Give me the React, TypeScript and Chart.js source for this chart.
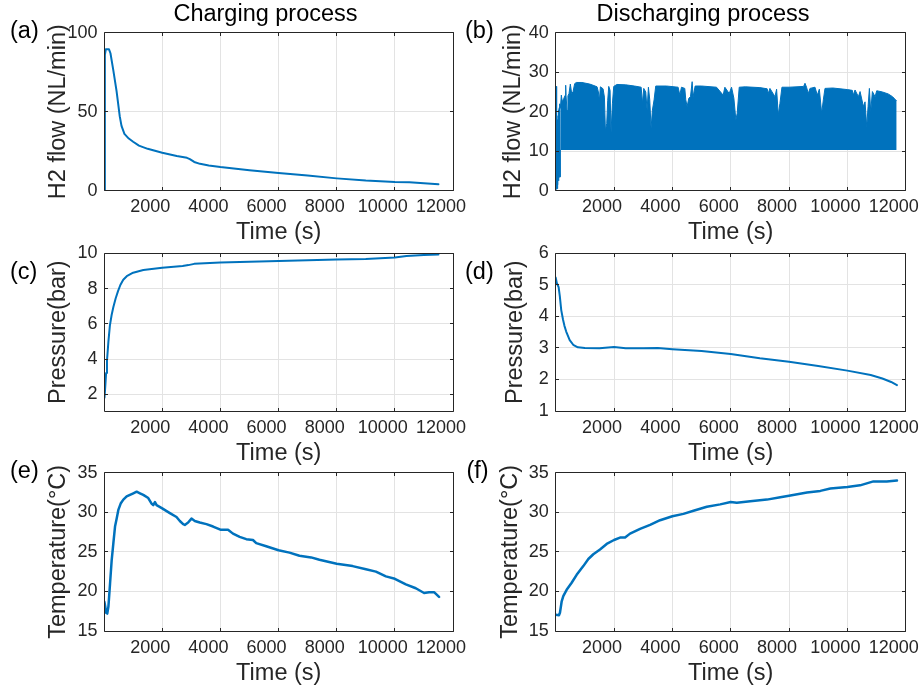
import React, { useEffect, useRef } from "react";
import { Chart, registerables } from "chart.js";

Chart.register(...registerables);

const FONT = '"Liberation Sans", Arial, Helvetica, sans-serif';
const LINE_BLUE = "#0072BD";
const GRID = "#e3e3e3";
const AXIS = "#262626";

// ---------- tick labels ----------
const timeTicks = [2000, 4000, 6000, 8000, 10000, 12000];
const flowChargeTicks = [0, 50, 100];
const flowDischargeTicks = [0, 10, 20, 30, 40];
const pressureChargeTicks = [2, 4, 6, 8, 10];
const pressureDischargeTicks = [1, 2, 3, 4, 5, 6];
const temperatureTicks = [15, 20, 25, 30, 35];

// ---------- (a) H2 flow, charging ----------
const aTime = [20, 28, 60, 170, 220, 320, 430, 540, 600, 700, 850, 1000, 1200, 1500, 2000, 2500, 2850, 2950, 3100, 3300, 3600, 4000, 5000, 6000, 7000, 8000, 9000, 10000, 10500, 11000, 11500];
const aFlow = [0, 86, 89.5, 89.5, 87, 76, 63, 47, 41, 36, 33, 31, 28.5, 26.5, 24, 22, 20.8, 20, 18.2, 17, 16, 15, 13, 11.2, 9.6, 7.8, 6.4, 5.5, 5.3, 4.7, 4.1];

// ---------- (b) H2 flow, discharging ----------
const bEarlyTime = [0, 4, 8, 14, 20, 28, 36, 44, 52, 62, 72, 82, 92, 102, 112, 122, 132, 142, 152, 159];
const bEarlyFlow = [0, 26.4, 0.3, 26.4, 0.5, 26.4, 0.5, 17, 0.5, 18, 1.5, 19, 2.5, 20.5, 3.3, 21, 3.4, 22, 3.5, 10.3];
const bFlowFloor = 10.3;
const bTime = [159, 193, 227, 273, 330, 342, 355, 388, 420, 456, 502, 548, 593, 650, 708, 900, 1166, 1281, 1418, 1463, 1498, 1532, 1624, 1670, 1704, 1750, 1784, 1818, 1864, 1898, 1944, 1990, 2100, 2400, 2700, 2930, 2973, 3019, 3087, 3133, 3179, 3225, 3270, 3316, 3373, 3430, 3797, 4197, 4255, 4312, 4426, 4460, 4506, 4563, 4621, 4678, 4712, 4781, 5000, 5514, 5742, 5800, 5949, 6029, 6109, 6177, 6223, 6292, 6500, 7000, 7250, 7288, 7345, 7517, 7574, 7631, 7688, 7757, 8000, 8500, 8547, 8600, 8661, 8718, 8890, 8970, 9039, 9119, 9176, 9233, 9500, 10000, 10170, 10206, 10263, 10378, 10435, 10550, 10606, 10664, 10710, 10755, 10801, 10858, 10950, 11007, 11200, 11400, 11550, 11690];
const bFlowUpper = [20.8, 24.2, 22.5, 23.3, 24.2, 26.7, 24, 20.3, 24, 24.6, 27, 24.6, 25, 27.1, 27.4, 27.4, 27.0, 26.7, 26.3, 25.0, 22.9, 26.3, 25.8, 23.7, 15.3, 17, 22.9, 26.4, 25.4, 14.8, 22, 26.4, 26.9, 26.8, 26.5, 26.2, 22.1, 25.9, 25, 20.4, 26.2, 23, 15.8, 20.4, 23, 26.5, 26.5, 26.2, 24.2, 26.2, 25.9, 23, 21.3, 23.4, 23.8, 27.6, 23.8, 26.5, 26.5, 26.2, 24.2, 26.2, 24.6, 26.2, 23.4, 17.9, 19.6, 26.2, 26.3, 26.1, 25.8, 24.6, 25.9, 23.8, 25.7, 19.2, 22.1, 26.2, 26.2, 26.4, 27.2, 26.2, 24.6, 25.9, 26.2, 24.2, 25.7, 19.6, 23, 25.9, 26.0, 25.6, 25.4, 24.2, 25.5, 23.8, 25.1, 21.3, 22.5, 16.2, 21.3, 25.9, 20, 25.1, 23.8, 25.3, 25.0, 24.5, 23.8, 22.7];

// ---------- (c) pressure, charging ----------
const cTime = [15, 40, 70, 100, 150, 200, 260, 320, 400, 480, 560, 660, 780, 1000, 1350, 2000, 2700, 2900, 3100, 4000, 6000, 8000, 9000, 10000, 10400, 11000, 11500];
const cPressure = [1.8, 2.4, 3.2, 3.9, 5.0, 5.9, 6.5, 6.95, 7.45, 7.85, 8.2, 8.5, 8.7, 8.9, 9.05, 9.18, 9.28, 9.33, 9.4, 9.48, 9.57, 9.65, 9.68, 9.76, 9.85, 9.9, 9.93];

// ---------- (d) pressure, discharging ----------
const dTime = [0, 40, 100, 140, 190, 250, 300, 360, 480, 600, 760, 1000, 1500, 2000, 2400, 3000, 3500, 4000, 5000, 6000, 7000, 8000, 9000, 10000, 10800, 11200, 11500, 11700];
const dPressure = [5.23, 5.05, 4.93, 4.65, 4.2, 3.9, 3.7, 3.52, 3.25, 3.1, 3.02, 3.0, 2.99, 3.03, 2.99, 2.99, 3.0, 2.96, 2.9, 2.81, 2.67, 2.56, 2.43, 2.28, 2.14, 2.03, 1.92, 1.82];

// ---------- (e) temperature, charging ----------
const eTime = [10, 40, 70, 110, 150, 206, 263, 320, 377, 434, 491, 571, 663, 777, 891, 1006, 1120, 1234, 1349, 1520, 1634, 1691, 1750, 1806, 2000, 2263, 2491, 2606, 2720, 2777, 2891, 3006, 3120, 3292, 3520, 3749, 4000, 4263, 4434, 4663, 4891, 5120, 5234, 5577, 6000, 6377, 6720, 7120, 7406, 8000, 8549, 9006, 9349, 9692, 10000, 10378, 10720, 11006, 11177, 11349, 11520];
const eTemperature = [18.7, 18.1, 17.3, 17.2, 18.1, 21, 24, 26.1, 28.2, 29.2, 30.3, 31.1, 31.6, 32, 32.2, 32.4, 32.6, 32.4, 32.2, 31.8, 31.1, 30.9, 31.3, 30.9, 30.5, 29.9, 29.4, 28.9, 28.5, 28.4, 28.7, 29.2, 28.9, 28.7, 28.5, 28.2, 27.8, 27.8, 27.3, 26.9, 26.6, 26.5, 26.1, 25.7, 25.2, 24.9, 24.5, 24.3, 24, 23.5, 23.2, 22.8, 22.5, 21.9, 21.6, 20.9, 20.4, 19.8, 19.9, 19.9, 19.3];

// ---------- (f) temperature, discharging ----------
const fTime = [0, 112, 146, 203, 260, 375, 547, 718, 947, 1119, 1290, 1519, 1748, 2000, 2206, 2378, 2549, 2893, 3236, 3579, 4000, 4380, 4724, 5182, 5640, 6000, 6210, 6670, 7240, 7700, 8000, 8615, 9073, 9416, 10000, 10435, 10893, 11350, 11700];
const fTemperature = [17.05, 17.0, 17.3, 18.7, 19.4, 20.2, 21.1, 22.1, 23.2, 24.1, 24.7, 25.3, 26.0, 26.5, 26.8, 26.8, 27.3, 27.9, 28.4, 29.0, 29.5, 29.8, 30.2, 30.7, 31.0, 31.3, 31.2, 31.4, 31.6, 31.9, 32.1, 32.5, 32.7, 33.0, 33.2, 33.4, 33.9, 33.9, 34.0];

const pts = (xs: number[], ys: number[]) => xs.map((x, i) => ({ x, y: ys[i] }));

const lineDs = (xs: number[], ys: number[], width = 2) => ({
  data: pts(xs, ys),
  borderColor: LINE_BLUE,
  borderWidth: width,
  pointRadius: 0,
  fill: false,
  tension: 0,
  borderJoinStyle: "round",
  borderCapStyle: "round",
});

const framePlugin = {
  id: "matlabFrame",
  afterDatasetsDraw(chart: any) {
    const { ctx, chartArea, scales } = chart;
    const { left, top, right, bottom } = chartArea;
    const L = Math.floor(left) + 0.5;
    const R = Math.floor(right) + 0.5;
    const T = Math.floor(top) + 0.5;
    const B = Math.floor(bottom) + 0.5;
    ctx.save();
    ctx.strokeStyle = AXIS;
    ctx.lineWidth = 1;
    ctx.beginPath();
    ctx.rect(L, T, R - L, B - T);
    const len = 3.5;
    scales.x.ticks.forEach((t: any) => {
      const px = Math.floor(scales.x.getPixelForValue(t.value)) + 0.5;
      ctx.moveTo(px, B);
      ctx.lineTo(px, B - len);
      ctx.moveTo(px, T);
      ctx.lineTo(px, T + len);
    });
    scales.y.ticks.forEach((t: any) => {
      const py = Math.floor(scales.y.getPixelForValue(t.value)) + 0.5;
      ctx.moveTo(L, py);
      ctx.lineTo(L + len, py);
      ctx.moveTo(R, py);
      ctx.lineTo(R - len, py);
    });
    ctx.stroke();
    ctx.restore();
  },
};

type PanelSpec = {
  left: number;
  top: number;
  width: number;
  height: number;
  plotLeft: number;
  plotRight: number;
  plotTop: number;
  plotBottom: number;
  xMin: number;
  yMin: number;
  yMax: number;
  yTicks: number[];
  yTitle: string;
  yTitleCenter: number;
  xTitleCenter: number;
  datasets: any[];
};

const TITLE_SIZE = 23.5;
const TICK_SIZE = 18;

function buildConfig(s: PanelSpec): any {
  const half = (TITLE_SIZE * 1.2) / 2;
  return {
    type: "line",
    data: { datasets: s.datasets },
    options: {
      animation: false,
      responsive: false,
      events: [],
      layout: { padding: { left: 0, top: s.plotTop, right: s.width - s.plotRight, bottom: 0 } },
      plugins: { legend: { display: false }, tooltip: { enabled: false }, title: { display: false } },
      scales: {
        x: {
          type: "linear",
          min: s.xMin,
          max: 12000,
          afterBuildTicks: (sc: any) => {
            sc.ticks = timeTicks.map((v) => ({ value: v }));
          },
          afterFit: (sc: any) => {
            sc.height = s.height - s.plotBottom;
            sc.paddingLeft = 0;
            sc.paddingRight = 0;
          },
          grid: { color: GRID, lineWidth: 1, drawTicks: false },
          border: { display: false },
          ticks: {
            padding: 6,
            labelOffset: -12,
            autoSkip: false,
            maxRotation: 0,
            minRotation: 0,
            color: AXIS,
            font: { family: FONT, size: TICK_SIZE },
            callback: (v: any) => String(v),
          },
          title: {
            display: true,
            text: "Time (s)",
            color: AXIS,
            font: { family: FONT, size: TITLE_SIZE },
            padding: { top: 0, bottom: s.height - s.xTitleCenter - half },
          },
        },
        y: {
          type: "linear",
          min: s.yMin,
          max: s.yMax,
          afterBuildTicks: (sc: any) => {
            sc.ticks = s.yTicks.map((v) => ({ value: v }));
          },
          afterFit: (sc: any) => {
            sc.width = s.plotLeft;
            sc.paddingTop = 0;
            sc.paddingBottom = 0;
          },
          grid: { color: GRID, lineWidth: 1, drawTicks: false },
          border: { display: false },
          ticks: {
            padding: 7,
            autoSkip: false,
            color: AXIS,
            font: { family: FONT, size: TICK_SIZE },
            callback: (v: any) => String(v),
          },
          title: {
            display: true,
            text: s.yTitle,
            color: AXIS,
            font: { family: FONT, size: TITLE_SIZE },
            padding: { top: s.yTitleCenter - half, bottom: 0 },
          },
        },
      },
    },
    plugins: [framePlugin],
  };
}

function Panel({ spec }: { spec: PanelSpec }) {
  const ref = useRef<HTMLCanvasElement | null>(null);
  useEffect(() => {
    const chart = new Chart(ref.current as HTMLCanvasElement, buildConfig(spec));
    return () => chart.destroy();
  }, []);
  return (
    <canvas
      ref={ref}
      width={spec.width}
      height={spec.height}
      style={{ position: "absolute", left: spec.left, top: spec.top, width: spec.width, height: spec.height }}
    />
  );
}

// column / row geometry (page pixels)
const COL_L = { left: 0, width: 475, plotLeft: 104.5, plotRight: 453, xMin: 15 };
const COL_R = { left: 460, width: 462, plotLeft: 95.7, plotRight: 445.7, xMin: 0 };
const ROW1 = { top: 0, height: 252, plotTop: 32.7, plotBottom: 190.7, xTitleCenter: 233 };
const ROW2 = { top: 236, height: 236, plotTop: 17.3, plotBottom: 175, xTitleCenter: 217.8 };
const ROW3 = { top: 455, height: 239, plotTop: 17.7, plotBottom: 176, xTitleCenter: 218.8 };

const panels: PanelSpec[] = [
  {
    ...COL_L, ...ROW1,
    yMin: 0, yMax: 100, yTicks: flowChargeTicks,
    yTitle: "H2 flow (NL/min)", yTitleCenter: 59,
    datasets: [lineDs(aTime, aFlow, 2)],
  },
  {
    ...COL_R, ...ROW1,
    yMin: 0, yMax: 40, yTicks: flowDischargeTicks,
    yTitle: "H2 flow (NL/min)", yTitleCenter: 54,
    datasets: [
      lineDs(bEarlyTime, bEarlyFlow, 1),
      {
        data: pts(bTime, bFlowUpper),
        borderColor: LINE_BLUE,
        backgroundColor: LINE_BLUE,
        borderWidth: 1,
        pointRadius: 0,
        tension: 0,
        borderJoinStyle: "bevel",
        fill: { value: bFlowFloor },
      },
    ],
  },
  {
    ...COL_L, ...ROW2,
    yMin: 1.05, yMax: 10, yTicks: pressureChargeTicks,
    yTitle: "Pressure(bar)", yTitleCenter: 59,
    datasets: [lineDs(cTime, cPressure, 2)],
  },
  {
    ...COL_R, ...ROW2,
    yMin: 1, yMax: 6, yTicks: pressureDischargeTicks,
    yTitle: "Pressure(bar)", yTitleCenter: 55.8,
    datasets: [lineDs(dTime, dPressure, 2)],
  },
  {
    ...COL_L, ...ROW3,
    yMin: 15, yMax: 35, yTicks: temperatureTicks,
    yTitle: "Temperature(°C)", yTitleCenter: 59,
    datasets: [lineDs(eTime, eTemperature, 2.5)],
  },
  {
    ...COL_R, ...ROW3,
    yMin: 15, yMax: 35, yTicks: temperatureTicks,
    yTitle: "Temperature(°C)", yTitleCenter: 50.8,
    datasets: [lineDs(fTime, fTemperature, 2.5)],
  },
];

const columnTitles = [
  { text: "Charging process", center: 265.5 },
  { text: "Discharging process", center: 703 },
];

const panelLabels = [
  { text: "(a)", left: 10, baseline: 38.5 },
  { text: "(b)", left: 465, baseline: 38.5 },
  { text: "(c)", left: 10, baseline: 280 },
  { text: "(d)", left: 465, baseline: 280 },
  { text: "(e)", left: 10, baseline: 478.5 },
  { text: "(f)", left: 466.5, baseline: 478.5 },
];

const textStyle = (size: number): React.CSSProperties => ({
  position: "absolute",
  fontFamily: FONT,
  fontSize: size,
  lineHeight: `${size}px`,
  whiteSpace: "nowrap",
  color: "#000",
});

export default function App() {
  const asc = 0.8465 * TITLE_SIZE;
  return (
    <div style={{ position: "absolute", left: 0, top: 0, width: 922, height: 694, background: "#fff", overflow: "hidden" }}>
      {panels.map((p, i) => (
        <Panel key={i} spec={p} />
      ))}
      {columnTitles.map((t, i) => (
        <div key={"t" + i} style={{ ...textStyle(TITLE_SIZE), left: t.center, top: 21.5 - asc, transform: "translateX(-50%)" }}>
          {t.text}
        </div>
      ))}
      {panelLabels.map((l, i) => (
        <div key={"l" + i} style={{ ...textStyle(TITLE_SIZE), left: l.left, top: l.baseline - asc }}>
          {l.text}
        </div>
      ))}
    </div>
  );
}
